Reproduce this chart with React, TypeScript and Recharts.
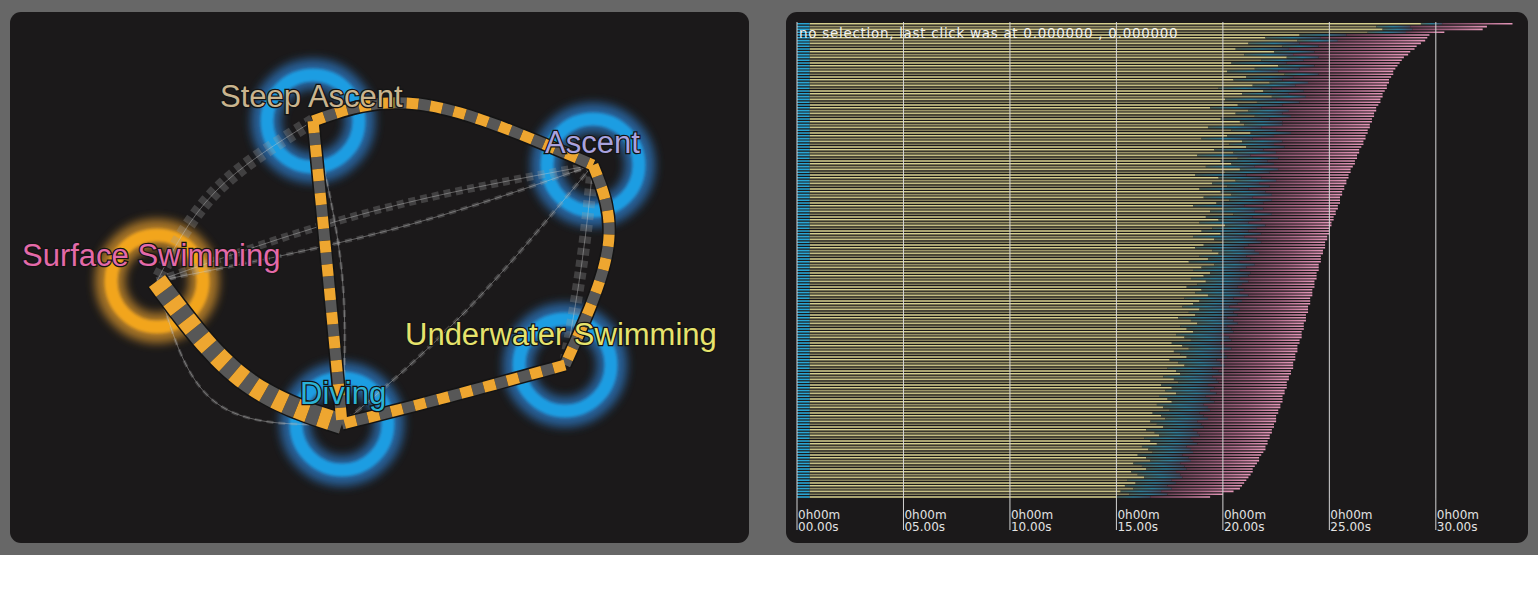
import {
    ComposedChart,
    Line,
    Scatter,
    XAxis,
    YAxis,
    BarChart,
    Bar,
    Cell,
    ReferenceLine,
} from 'recharts'

// ---- behaviour graph (left panel), layout units = panel pixels
const stateNames = ['Steep Ascent', 'Ascent', 'Surface Swimming', 'Underwater Swimming', 'Diving']
const stateX = [303, 583, 147, 555, 332]
const stateY = [109, 153, 269, 353, 412]

const strongEdges = [
    { from: 'Steep Ascent', to: 'Ascent', bend: [415, 93], width: 11 },
    { from: 'Steep Ascent', to: 'Diving', bend: [318, 262], width: 11 },
    { from: 'Ascent', to: 'Underwater Swimming', bend: [598, 235], width: 11 },
    { from: 'Underwater Swimming', to: 'Diving', bend: [430, 387], width: 11 },
    { from: 'Surface Swimming', to: 'Diving', bend: [232, 366], width: 20 },
]

const weakEdges = [
    { from: 'Steep Ascent', to: 'Surface Swimming', bend: [205, 180], width: 14 },
    { from: 'Surface Swimming', to: 'Ascent', bend: [360, 200], width: 8 },
    { from: 'Surface Swimming', to: 'Ascent', bend: [380, 218], width: 4 },
    { from: 'Ascent', to: 'Diving', bend: [455, 300], width: 4 },
    { from: 'Ascent', to: 'Underwater Swimming', bend: [572, 250], width: 12 },
    { from: 'Surface Swimming', to: 'Diving', bend: [205, 390], width: 3 },
    { from: 'Steep Ascent', to: 'Diving', bend: [332, 262], width: 3 },
]

// ---- dive timeline (right panel), seconds per dive row
const LEAD_BLUE = 0.6
const totalEnd = [
    33.6, 32.4, 32.2, 30.4, 29.7, 29.6, 29.5, 29.3, 29.1, 29.0,
    28.8, 28.7, 28.5, 28.4, 28.3, 28.2, 28.1, 28.0, 28.0, 27.9,
    27.8, 27.8, 27.7, 27.7, 27.6, 27.5, 27.5, 27.4, 27.4, 27.3,
    27.2, 27.2, 27.1, 27.1, 27.0, 27.0, 26.9, 26.9, 26.8, 26.8,
    26.7, 26.7, 26.6, 26.6, 26.5, 26.4, 26.4, 26.3, 26.3, 26.2,
    26.2, 26.1, 26.0, 26.0, 25.9, 25.9, 25.8, 25.8, 25.7, 25.7,
    25.6, 25.6, 25.5, 25.5, 25.5, 25.4, 25.4, 25.3, 25.3, 25.2,
    25.2, 25.1, 25.1, 25.0, 25.0, 25.0, 24.9, 24.9, 24.8, 24.8,
    24.8, 24.7, 24.7, 24.6, 24.6, 24.6, 24.5, 24.5, 24.5, 24.4,
    24.4, 24.4, 24.3, 24.3, 24.3, 24.2, 24.2, 24.2, 24.1, 24.1,
    24.1, 24.0, 24.0, 24.0, 23.9, 23.9, 23.9, 23.8, 23.8, 23.8,
    23.7, 23.7, 23.7, 23.6, 23.6, 23.5, 23.5, 23.5, 23.4, 23.4,
    23.4, 23.3, 23.3, 23.3, 23.2, 23.2, 23.1, 23.1, 23.0, 23.0,
    23.0, 22.9, 22.9, 22.8, 22.8, 22.8, 22.7, 22.7, 22.6, 22.6,
    22.5, 22.5, 22.5, 22.4, 22.4, 22.3, 22.3, 22.2, 22.2, 22.1,
    22.1, 22.0, 22.0, 21.9, 21.8, 21.7, 21.7, 21.6, 21.5, 21.4,
    21.4, 21.3, 21.2, 21.1, 21.0, 20.9, 20.8, 20.5, 20.0, 19.4,
]
const yellowEnd = [
    29.3, 27.2, 27.5, 26.8, 23.6, 22.0, 23.5, 21.2, 22.8, 20.6,
    22.4, 21.0, 23.0, 21.8, 20.4, 22.6, 21.5, 20.2, 22.9, 21.1,
    20.5, 22.2, 21.4, 19.8, 21.9, 20.9, 22.3, 20.1, 21.6, 20.7,
    19.4, 21.2, 20.6, 21.5, 19.9, 20.8, 21.0, 19.3, 20.4, 21.3,
    20.2, 19.0, 20.9, 20.3, 21.1, 19.6, 20.5, 18.8, 20.7, 19.9,
    20.4, 19.2, 20.8, 20.1, 18.7, 19.8, 20.6, 19.5, 20.2, 18.9,
    19.9, 20.4, 19.1, 20.3, 19.7, 18.6, 20.0, 19.4, 20.5, 19.2,
    19.8, 18.9, 20.1, 19.5, 19.0, 19.9, 18.6, 19.6, 20.0, 19.1,
    18.7, 19.5, 19.8, 18.9, 19.3, 18.4, 19.6, 19.0, 18.6, 19.4,
    19.1, 18.5, 19.2, 18.8, 18.3, 19.0, 18.7, 19.3, 18.2, 18.9,
    18.6, 18.1, 18.9, 18.4, 18.7, 17.9, 18.5, 18.8, 18.0, 18.3,
    18.6, 17.8, 18.2, 18.5, 17.6, 18.1, 18.4, 17.7, 18.0, 18.3,
    17.5, 17.9, 18.2, 17.4, 17.8, 18.0, 17.2, 17.7, 17.9, 17.1,
    17.6, 17.3, 17.8, 17.0, 17.4, 17.6, 16.9, 17.2, 17.5, 16.7,
    17.1, 17.3, 16.6, 16.9, 17.2, 16.4, 16.8, 17.0, 16.3, 16.6,
    16.9, 16.2, 16.5, 16.7, 16.0, 16.4, 16.6, 15.8, 16.2, 16.4,
    15.7, 16.0, 16.3, 15.5, 15.9, 15.4, 15.8, 15.2, 15.6, 15.0,
]
const blueDur = [
    1.0, 1.6, 1.4, 1.8, 2.2, 2.6, 1.9, 2.4, 1.7, 2.5,
    1.9, 2.3, 1.5, 2.0, 2.6, 1.7, 2.1, 2.4, 1.6, 2.2,
    2.3, 1.8, 2.0, 2.5, 1.9, 2.2, 1.6, 2.4, 2.0, 2.1,
    2.4, 1.9, 2.2, 1.7, 2.3, 2.0, 1.8, 2.5, 2.1, 1.9,
    2.2, 2.4, 1.9, 2.1, 1.8, 2.3, 2.0, 2.5, 1.9, 2.2,
    2.0, 2.3, 1.8, 2.1, 2.4, 2.0, 1.9, 2.2, 2.0, 2.3,
    2.1, 1.9, 2.3, 2.0, 2.2, 2.4, 1.9, 2.1, 1.8, 2.2,
    2.0, 2.3, 1.9, 2.1, 2.2, 1.9, 2.4, 2.0, 1.8, 2.1,
    2.3, 2.0, 1.9, 2.2, 2.0, 2.4, 1.9, 2.1, 2.2, 1.9,
    2.1, 2.3, 2.0, 2.1, 2.4, 2.0, 2.1, 1.9, 2.3, 2.0,
    2.1, 2.2, 1.9, 2.1, 2.0, 2.3, 2.0, 1.9, 2.2, 2.1,
    1.9, 2.2, 2.1, 1.9, 2.3, 2.0, 2.0, 2.2, 2.1, 1.9,
    2.2, 2.0, 1.9, 2.1, 2.0, 2.0, 2.3, 2.0, 1.9, 2.2,
    2.0, 2.1, 1.9, 2.2, 2.0, 2.0, 2.2, 2.1, 1.9, 2.2,
    2.0, 2.0, 2.2, 2.1, 1.9, 2.2, 2.0, 1.9, 2.2, 2.0,
    1.9, 2.1, 2.0, 1.9, 2.1, 2.0, 1.9, 2.2, 2.0, 1.9,
    2.1, 2.0, 1.8, 2.1, 1.9, 2.0, 1.8, 1.9, 1.8, 1.6,
]
const timeTicks = [0, 5, 10, 15, 20, 25, 30]

const nodes = stateNames.map((name, i) => ({ name, x: stateX[i], y: stateY[i] }))
const nodeByName = Object.fromEntries(nodes.map((n) => [n.name, n]))
const edgePoints = (e: { from: string; to: string; bend: number[] }) => [
    { x: nodeByName[e.from].x, y: nodeByName[e.from].y },
    { x: e.bend[0], y: e.bend[1] },
    { x: nodeByName[e.to].x, y: nodeByName[e.to].y },
]

const rows = totalEnd.map((t, i) => ({
    row: i,
    lead: LEAD_BLUE,
    yellow: +(yellowEnd[i] - LEAD_BLUE).toFixed(2),
    blue: blueDur[i],
    pink: +(t - yellowEnd[i] - blueDur[i]).toFixed(2),
}))

const ringStyle: Record<string, { core: string; glow: string }> = {
    'Steep Ascent': { core: '#1f9de2', glow: '#2c72b8' },
    Ascent: { core: '#1f9de2', glow: '#2c72b8' },
    'Surface Swimming': { core: '#f2a51e', glow: '#c98b2c' },
    'Underwater Swimming': { core: '#1f9de2', glow: '#2c72b8' },
    Diving: { core: '#1f9de2', glow: '#2c72b8' },
}

const labelStyle: Record<string, { dx: number; dy: number; fill: string }> = {
    'Steep Ascent': { dx: -93, dy: -14, fill: '#c9b48e' },
    Ascent: { dx: -48, dy: -12, fill: '#a9a2de' },
    'Surface Swimming': { dx: -135, dy: -15, fill: '#e46aa9' },
    'Underwater Swimming': { dx: -160, dy: -20, fill: '#e6e36c' },
    Diving: { dx: -42, dy: -20, fill: '#2cb2d4' },
}

const yellowTones = ['#d6cf8e', '#9a9468', '#c6bf84', '#86815d', '#ddd592']

function NodeRing(props: any) {
    const { cx, cy, payload } = props
    const c = ringStyle[payload.name]
    return (
        <g>
            <circle cx={cx} cy={cy} r={47} fill="none" stroke={c.glow} strokeWidth={30} opacity={0.8} filter="url(#ringGlow)" />
            <circle cx={cx} cy={cy} r={46} fill="none" stroke={c.core} strokeWidth={13} filter="url(#ringSoft)" />
        </g>
    )
}

function NodeLabel(props: any) {
    const { cx, cy, payload } = props
    const s = labelStyle[payload.name]
    return (
        <text
            x={cx + s.dx}
            y={cy + s.dy}
            fill={s.fill}
            stroke="#141414"
            strokeWidth={2.5}
            paintOrder="stroke"
            fontSize={31}
            fontFamily="'Liberation Sans', Arial, sans-serif"
        >
            {payload.name}
        </text>
    )
}

function StateGraph() {
    const lineProps = {
        dataKey: 'y',
        type: 'natural' as const,
        dot: false,
        activeDot: false,
        isAnimationActive: false,
        zIndex: 450,
    }
    return (
        <ComposedChart width={739} height={531} margin={{ top: 0, right: 0, bottom: 0, left: 0 }}>
            <XAxis dataKey="x" type="number" domain={[0, 739]} hide allowDataOverflow />
            <YAxis dataKey="y" type="number" domain={[0, 531]} reversed hide width={0} allowDataOverflow />
            <Scatter data={nodes} shape={NodeRing} isAnimationActive={false} zIndex={350} />
            {weakEdges.map((e, i) => (
                <Line
                    key={`w${i}`}
                    {...lineProps}
                    data={edgePoints(e)}
                    stroke="#9a9a9a"
                    strokeOpacity={0.3}
                    strokeWidth={e.width}
                    strokeDasharray="7 5"
                />
            ))}
            {weakEdges.map((e, i) => (
                <Line
                    key={`wt${i}`}
                    {...lineProps}
                    data={edgePoints(e)}
                    stroke="#d0d0d0"
                    strokeOpacity={0.4}
                    strokeWidth={1}
                />
            ))}
            {strongEdges.map((e, i) => (
                <Line key={`sb${i}`} {...lineProps} data={edgePoints(e)} stroke="#141414" strokeWidth={e.width + 3} />
            ))}
            {strongEdges.map((e, i) => (
                <Line
                    key={`sg${i}`}
                    {...lineProps}
                    data={edgePoints(e)}
                    stroke="#575757"
                    strokeWidth={e.width}
                    strokeDasharray="12 12"
                    strokeDashoffset={12}
                />
            ))}
            {strongEdges.map((e, i) => (
                <Line
                    key={`so${i}`}
                    {...lineProps}
                    data={edgePoints(e)}
                    stroke="#eea630"
                    strokeWidth={e.width}
                    strokeDasharray="12 12"
                />
            ))}
            <Scatter data={nodes} shape={NodeLabel} isAnimationActive={false} zIndex={2100} />
        </ComposedChart>
    )
}

function TimeTick(props: any) {
    const { x, y, payload } = props
    const s = String(payload.value).padStart(2, '0')
    return (
        <text fill="#e2e2e2" fontSize={12} fontFamily="'DejaVu Sans', sans-serif">
            <tspan x={x + 1} y={y - 13}>0h00m</tspan>
            <tspan x={x + 1} y={y - 1}>{s}.00s</tspan>
        </text>
    )
}

function DiveTimeline() {
    return (
        <BarChart
            width={742}
            height={531}
            data={rows}
            layout="vertical"
            margin={{ top: 10, right: 7, bottom: 0, left: 11 }}
            barSize={1.6}
        >
            <XAxis
                type="number"
                domain={[0, 34]}
                ticks={timeTicks}
                interval={0}
                axisLine={false}
                tickLine={{ stroke: '#d2d2d2' }}
                tickSize={32}
                height={45}
                tick={<TimeTick />}
                allowDataOverflow
            />
            <YAxis type="category" dataKey="row" hide width={0} />
            <Bar dataKey="lead" stackId="d" fill="#2aa6d4" isAnimationActive={false} />
            <Bar dataKey="yellow" stackId="d" isAnimationActive={false}>
                {rows.map((r, i) => (
                    <Cell key={r.row} fill={yellowTones[i % yellowTones.length]} />
                ))}
            </Bar>
            <Bar dataKey="blue" stackId="d" fill="url(#blueSpeck)" isAnimationActive={false} />
            <Bar dataKey="pink" stackId="d" fill="url(#pinkFade)" isAnimationActive={false} />
            {timeTicks.map((t) => (
                <ReferenceLine key={t} x={t} stroke="#d6d6d6" strokeWidth={1} />
            ))}
        </BarChart>
    )
}

export default function App() {
    return (
        <div style={{ position: 'absolute', left: 0, top: 0, width: 1538, height: 596, background: '#ffffff', overflow: 'hidden' }}>
            <svg width={0} height={0} style={{ position: 'absolute' }}>
                <defs>
                    <filter id="ringGlow" x="-60%" y="-60%" width="220%" height="220%">
                        <feGaussianBlur stdDeviation="5" />
                    </filter>
                    <filter id="ringSoft" x="-60%" y="-60%" width="220%" height="220%">
                        <feGaussianBlur stdDeviation="1.5" />
                    </filter>
                    <linearGradient id="pinkFade" x1="0" y1="0" x2="1" y2="0">
                        <stop offset="0%" stopColor="#6c4257" />
                        <stop offset="55%" stopColor="#a96685" />
                        <stop offset="100%" stopColor="#e597b9" />
                    </linearGradient>
                    <linearGradient id="blueSpeck" x1="0" y1="0" x2="1" y2="0">
                        <stop offset="0%" stopColor="#55685a" />
                        <stop offset="50%" stopColor="#2f7d98" />
                        <stop offset="100%" stopColor="#4d4f68" />
                    </linearGradient>
                </defs>
            </svg>
            <div style={{ position: 'absolute', left: 0, top: 0, width: 1538, height: 555, background: '#676767' }} />
            <div style={{ position: 'absolute', left: 10, top: 12, width: 739, height: 531, background: '#1b191a', borderRadius: 11, overflow: 'hidden' }}>
                <StateGraph />
            </div>
            <div style={{ position: 'absolute', left: 786, top: 12, width: 742, height: 531, background: '#1b191a', borderRadius: 11, overflow: 'hidden' }}>
                <DiveTimeline />
                <div
                    style={{
                        position: 'absolute',
                        left: 13,
                        top: 14,
                        fontSize: 13.5,
                        lineHeight: '14px',
                        letterSpacing: '0.7px',
                        color: '#f2f2f2',
                        whiteSpace: 'nowrap',
                        fontFamily: "'DejaVu Sans', sans-serif",
                    }}
                >
                    no selection, last click was at 0.000000 , 0.000000
                </div>
            </div>
        </div>
    )
}
